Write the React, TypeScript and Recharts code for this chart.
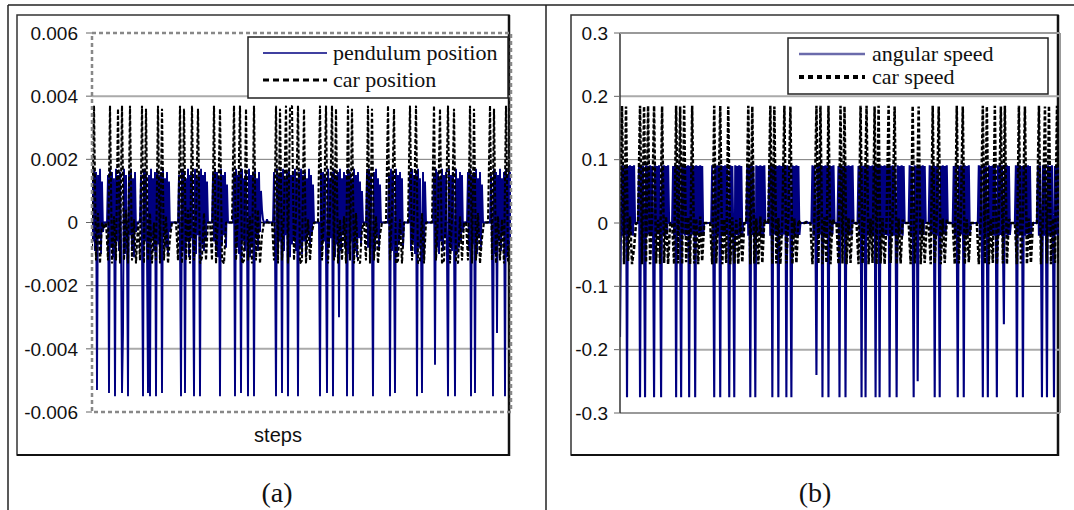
import React from "react";
import { LineChart, Line, XAxis, YAxis, ReferenceLine } from "recharts";

// Panel (a): pendulum position, one sample per step, units of 0.0001
const pendulumPos = [
  14, -6, 17, -9, 16, -53, 15, -4, 17, -10, 13, -3, 0, 0, 0, 0, 15, -54, 17, -8,
  16, -11, 14, -55, 17, -6, 15, -9, 16, -5, -54, -35, 17, -10, 15, -7, -55, 16, -4, 17,
  -9, 14, -11, 16, -3, 0, 0, 0, 1, 15, -8, -55, 17, -6, 16, -10, -54, 15, -55, 17,
  -5, 14, -9, 16, -55, 17, -7, 15, -11, 16, -54, 17, -4, 14, -8, 16, -10, 13, -3, 0,
  0, 0, 0, 0, 0, 0, 0, 15, -7, -55, 17, -9, 16, -54, 14, -6, 17, -11, 15, -5,
  16, -8, -55, 17, -10, 14, -4, 16, -55, 17, -7, 15, -9, 16, -5, 13, 0, 0, 0, 0,
  0, 15, -6, 17, -9, 16, -11, 14, -55, 17, -7, 15, -4, 16, -8, 12, 0, 0, 0, 0,
  0, 0, 16, -55, 17, -8, 15, -10, 16, -54, 17, -6, 14, -9, 16, -4, -55, 17, -11, 15,
  -7, 16, -55, 17, -5, 14, -9, 16, -3, 10, 4, 1, 0, 0, 0, 1, 0, 0, 0, 0,
  0, 0, 16, -8, -55, 17, -10, 15, -6, 16, -54, 17, -9, 14, -4, 16, -55, 17, -11, 15,
  -7, 16, -5, 17, -9, 14, -55, 16, -8, 17, -10, 15, -6, 16, -11, 14, -4, 17, -8, 15,
  -3, 12, 0, 0, 0, 0, 0, 0, -55, 17, -9, 16, -6, 15, -10, -54, 17, -8, 14, -5,
  16, -55, 17, -11, 15, -7, 16, -30, 17, -9, 14, -4, 16, -8, 15, -55, 17, -10, 16, -6,
  14, -55, 17, -9, 15, -11, 16, -5, 13, -7, 10, 0, 0, 0, 0, 16, -8, 17, -10, 15,
  -6, -55, 16, -9, 17, -4, 14, -8, 12, 0, 0, 0, 0, 0, 0, 0, 0, 15, -55, 17,
  -9, 16, -6, -54, 17, -11, 15, -7, 16, -4, 14, -8, 0, 0, 0, 0, 0, 0, 16, -9,
  17, -6, 15, -10, 16, -55, 17, -8, 14, -5, -54, 16, -11, 13, 0, 0, 0, 0, 0, 0,
  0, 0, 15, -45, 17, -8, 16, -10, 14, -6, 17, -9, 15, -4, 16, -11, -55, 17, -7, 15,
  -9, 16, -5, -55, 17, -10, 14, -8, 16, -6, 15, -3, 0, 0, 0, 0, 16, -9, 17, -55,
  15, -7, 16, -54, 17, -10, 14, -5, 16, -8, 12, 0, 0, 0, 0, 0, 0, 0, 0, 15,
  -8, -55, 17, -10, 16, -35, 15, -6, 17, -9, 14, -4, 16, -55, 17, -11, 15, -7, 16, -5,
];
// Panel (a): car position, one sample every 2 steps, units of 0.0001
const carPos = [
  -8, 37, -12, 3, -13, 0, -2, 0, -12, 37,
  -13, 2, -12, 36, -13, 37, -12, 4, -13, 37,
  -12, 1, -13, 0, -12, 37, -13, 36, -12, 3,
  -13, 0, -12, 37, -13, 36, -12, 2, -13, -5,
  0, 0, 0, -12, 37, -13, 36, -12, 4, -13,
  37, -12, 1, 36, -13, -11, 3, -12, 0, 0,
  -12, 37, -13, 2, 36, -12, -13, 0, 0, 0,
  0, 37, -12, 3, 37, -13, -12, 36, -12, 2,
  -13, 37, -12, 4, -13, -4, 0, 0, 0, 0,
  0, -12, 37, -13, 36, -12, 3, 37, -13, 36,
  37, -12, 2, 37, -13, -12, 36, -13, 1, -12,
  -3, 0, 0, 0, 37, -12, 2, 37, -13, 3,
  37, -12, 36, -13, 1, -12, 2, -13, 37, -12,
  36, -13, 3, -12, -13, -2, 0, -12, 37, -13,
  36, -12, 2, -13, -4, 0, 0, 0, 37, -12,
  3, 36, -13, -12, 1, -13, 0, 0, 0, 37,
  -12, 2, 37, -13, -12, 3, -13, 0, 0, 0,
  0, 37, -12, 2, 36, -13, -12, 3, 37, -13,
  1, 36, -12, -13, 2, -12, 0, 0, -12, 37,
  -13, 36, -12, 3, -13, -5, 0, 0, 0, 37,
  -12, 36, -13, 2, -12, 1, -13, 37, -12, -13,
];

// Panel (b): angular speed, one sample per step, units of 0.001
const angularSpeed = [
  -180, 0, 91, -20, 90, -19, 91, -275, 90, -20, 91, -18, 90, -20, 91, 0, 0, 0, 0, 90,
  -275, 91, -20, 90, -19, -275, 91, -20, 90, -18, 91, -20, 90, -19, -275, 91, -20, 90, -18, 91,
  -20, -275, 90, -19, 91, -20, 90, -18, 91, 0, 0, 0, 0, 90, -20, 91, -275, 90, -19, 91,
  -20, -275, 90, -18, 91, -20, 90, -19, 91, -275, 90, -20, 91, -18, 90, -275, 91, -19, 90, -20,
  91, -18, 90, -20, 0, 0, 0, 0, 0, 0, 0, 0, 91, -20, -275, 90, -19, 91, -20, 90,
  -275, 91, -18, 90, -20, 91, -19, 90, -20, -275, 91, -18, 90, -20, -275, 91, -19, 90, -20, 91,
  -18, 90, -20, 0, 0, 0, 0, 91, -20, 90, -275, 91, -19, 90, -20, -275, 91, -18, 90, -20,
  91, -19, 90, -20, 91, 0, 0, 0, 0, 90, -20, 91, -275, 90, -18, 91, -20, 90, -275, 91,
  -19, 90, -20, 91, -18, 90, -275, 91, -20, 90, -19, -275, 91, -20, 90, -18, 91, -20, 90, -19,
  0, 0, 0, 0, 0, 1, 2, 1, 0, 0, 0, 0, 91, -20, 90, -19, -240, 91, -20, 90,
  -18, 91, -275, 90, -20, 91, -19, 90, -275, 91, -20, 90, -18, 91, 0, 0, 0, 0, 90, -275,
  91, -20, 90, -19, 91, -275, 90, -20, 91, -18, 90, -20, 91, 0, 0, 0, 0, 0, 90, -20,
  91, -275, 90, -19, 91, -275, 90, -20, 91, -18, 90, -20, 91, -19, 90, -275, 91, -20, 90, -275,
  91, -18, 90, -20, 91, -19, 90, -20, 91, -275, 90, -18, 91, -20, 90, -19, -275, 91, -20, 90,
  -18, 91, -20, 90, 0, 0, 0, 0, 0, 91, -20, 90, -19, -275, 91, -20, 90, -250, 91, -18,
  90, -20, 91, -19, 90, 0, 0, 0, 0, 91, -20, 90, -18, 91, -275, 90, -20, 91, -19, -275,
  90, -20, 91, -18, 90, -20, 91, 0, 0, 0, 0, 0, 0, 90, -20, 91, -19, -275, 90, -20,
  91, -18, 90, -275, 91, -20, 90, -19, 91, -20, 0, 0, 0, 0, 0, 0, 0, 0, 91, -20,
  90, -19, -275, 91, -20, 90, -18, -275, 91, -20, 90, -19, 91, -20, 90, -18, -275, 91, -20, 90,
  -19, 91, -20, -160, 90, -18, 91, -20, 90, -19, 0, 0, 0, 0, 0, 91, -275, 90, -20, 91,
  -19, 90, -275, 91, -20, 90, -18, 91, -20, 90, -19, 0, 0, 0, 0, 0, 0, 91, -20, 90,
  -19, -275, 91, -20, 90, -18, -275, 91, -20, 90, -19, 91, -20, -275, 90, -18, 91, -20, 90, -19,
];
// Panel (b): car speed, one sample every 2 steps, units of 0.001
const carSpeed = [
  -30, 185, -65, 184, -60, 10, -65, -40, 0, 0,
  185, -65, 184, -62, 185, -65, 8, 185, -64, 5,
  -65, 184, -63, 10, -65, 0, 0, -65, 185, -64,
  184, -65, 185, -62, 9, -65, 185, -64, 7, -65,
  10, -60, 0, 0, 0, 0, -65, 185, -64, 8,
  185, -65, 6, -63, 184, -65, 9, -64, 5, -65,
  8, -62, 0, 0, 185, -65, 184, -64, 7, -65,
  10, -63, 5, 0, 0, 185, -65, 184, -64, 8,
  -65, 6, 185, -64, 9, 184, -65, 7, -63, 4,
  0, 0, 0, 1, 0, 0, -65, 8, 185, -64,
  185, -65, 9, -63, 185, -65, 6, 0, 0, -65,
  185, -64, 184, -65, 8, -63, 5, 0, 0, -65,
  185, -64, 9, 185, -65, 7, -63, 184, -65, 185,
  -64, 8, -65, 6, 185, -63, 9, 184, -65, 7,
  -64, 5, 0, 0, 0, -65, 185, -64, 8, 184,
  -65, 6, -63, 0, 0, -65, 185, -64, 9, 184,
  -65, 7, -63, 5, 0, 0, 0, -65, 185, -64,
  8, 184, -65, 6, -62, 0, 0, 0, 0, -65,
  8, 185, -64, 184, -65, 7, -63, 185, -65, 9,
  184, -64, 185, -65, 6, 0, 0, 0, -65, 185,
  -64, 8, 184, -65, 7, -63, 0, 0, 0, 185,
  -65, 8, 184, -64, 185, -65, 7, -63, 185, -65,
];

const ticksA = [-0.006, -0.004, -0.002, 0, 0.002, 0.004, 0.006];
const tickLabelsA = ["-0.006", "-0.004", "-0.002", "0", "0.002", "0.004", "0.006"];
const ticksB = [-0.3, -0.2, -0.1, 0, 0.1, 0.2, 0.3];
const tickLabelsB = ["-0.3", "-0.2", "-0.1", "0", "0.1", "0.2", "0.3"];

const seriesNamesA = ["pendulum position", "car position"];
const seriesNamesB = ["angular speed", "car speed"];

// step index of each sample (car series are sampled every 2 steps)
const pendData = pendulumPos.map((v, i) => ({ x: i, y: v / 10000 }));
const carAData = carPos.map((v, i) => ({ x: i * 2, y: v / 10000 }));
const angData = angularSpeed.map((v, i) => ({ x: i, y: v / 1000 }));
const carBData = carSpeed.map((v, i) => ({ x: i * 2, y: v / 1000 }));

const SANS = "'Liberation Sans', Arial, sans-serif";
const SERIF = "'Liberation Serif', 'DejaVu Serif', 'Times New Roman', serif";
const NAVY = "#000080";

export default function App() {
  return (
    <div style={{ position: "absolute", left: 0, top: 0, width: 1074, height: 510, background: "#fff", overflow: "hidden" }}>
      {/* under layer */}
      <svg width={1074} height={510} style={{ position: "absolute", left: 0, top: 0 }}>
        <line x1={8} y1={5} x2={1074} y2={5} stroke="#222" strokeWidth={1.5} />
        <line x1={8} y1={5} x2={8} y2={510} stroke="#222" strokeWidth={1.5} />
        <line x1={546} y1={5} x2={546} y2={510} stroke="#222" strokeWidth={1.5} />
        <rect x={17} y={15} width={492} height={440} fill="#fff" stroke="#333" strokeWidth={1.5} />
        <line x1={509} y1={15} x2={509} y2={456} stroke="#111" strokeWidth={2.5} />
        <line x1={17} y1={455} x2={509} y2={455} stroke="#111" strokeWidth={2} />
        <rect x={571} y={15} width={487} height={440} fill="#fff" stroke="#333" strokeWidth={1.5} />
        <line x1={1058} y1={15} x2={1058} y2={456} stroke="#111" strokeWidth={2.5} />
        <line x1={571} y1={455} x2={1058} y2={455} stroke="#111" strokeWidth={2} />
        <text x={278} y={442} textAnchor="middle" style={{ fontFamily: SANS, fontSize: 20 }} fill="#111">steps</text>
        <text x={277} y={502} textAnchor="middle" style={{ fontFamily: SERIF, fontSize: 28 }} fill="#111">(a)</text>
        <text x={815} y={502} textAnchor="middle" style={{ fontFamily: SERIF, fontSize: 28 }} fill="#111">(b)</text>
      </svg>

      <div style={{ position: "absolute", left: 0, top: 0 }}>
        <LineChart width={530} height={460} margin={{ top: 33, right: 19, bottom: 48, left: 32 }}>
          <XAxis dataKey="x" type="number" domain={[0, pendulumPos.length - 1]} hide allowDataOverflow />
          <YAxis
            type="number"
            domain={[-0.006, 0.006]}
            ticks={ticksA}
            width={60}
            tickSize={6}
            tickMargin={8}
            axisLine={false}
            tickLine={{ stroke: "#666" }}
            tickFormatter={(v: number, idx: number) => tickLabelsA[idx]}
            tick={{ fontFamily: SANS, fontSize: 19, fill: "#111" }}
            allowDataOverflow
          />
          <ReferenceLine y={0.004} stroke="#aaa" strokeWidth={2} />
          <ReferenceLine y={0.002} stroke="#777" strokeWidth={1} />
          <ReferenceLine y={-0.002} stroke="#666" strokeWidth={1} />
          <ReferenceLine y={-0.004} stroke="#aaa" strokeWidth={2} />
          <ReferenceLine y={0} stroke="#111" strokeWidth={1.5} />
          <Line data={pendData} type="linear" dataKey="y" name={seriesNamesA[0]} stroke={NAVY} strokeWidth={1.9} strokeLinejoin="bevel" dot={false} isAnimationActive={false} />
          <Line data={carAData} type="linear" dataKey="y" name={seriesNamesA[1]} stroke="#000" strokeWidth={2.1} strokeDasharray="4 2" strokeLinejoin="bevel" dot={false} isAnimationActive={false} />
        </LineChart>
      </div>

      <div style={{ position: "absolute", left: 540, top: 0 }}>
        <LineChart width={530} height={460} margin={{ top: 33, right: 10, bottom: 47, left: 20 }}>
          <XAxis dataKey="x" type="number" domain={[0, angularSpeed.length - 1]} hide allowDataOverflow />
          <YAxis
            type="number"
            domain={[-0.3, 0.3]}
            ticks={ticksB}
            width={60}
            tickSize={6}
            tickMargin={6}
            axisLine={{ stroke: "#333", strokeWidth: 1.5 }}
            tickLine={{ stroke: "#666" }}
            tickFormatter={(v: number, idx: number) => tickLabelsB[idx]}
            tick={{ fontFamily: SANS, fontSize: 19, fill: "#111" }}
            allowDataOverflow
          />
          <ReferenceLine y={0.3} stroke="#999" strokeWidth={2} />
          <ReferenceLine y={0.2} stroke="#aaa" strokeWidth={2} />
          <ReferenceLine y={0.1} stroke="#777" strokeWidth={1} />
          <ReferenceLine y={-0.1} stroke="#111" strokeWidth={1} />
          <ReferenceLine y={-0.2} stroke="#aaa" strokeWidth={2} />
          <ReferenceLine y={-0.3} stroke="#999" strokeWidth={2} />
          <ReferenceLine y={0} stroke="#1a1a70" strokeWidth={1.5} />
          <Line data={angData} type="linear" dataKey="y" name={seriesNamesB[0]} stroke={NAVY} strokeWidth={2.1} strokeLinejoin="bevel" dot={false} isAnimationActive={false} />
          <Line data={carBData} type="linear" dataKey="y" name={seriesNamesB[1]} stroke="#000" strokeWidth={2.5} strokeDasharray="4 2" strokeLinejoin="bevel" dot={false} isAnimationActive={false} />
        </LineChart>
      </div>

      {/* over layer */}
      <svg width={1074} height={510} style={{ position: "absolute", left: 0, top: 0, pointerEvents: "none" }}>
        <rect x={92} y={33} width={419} height={379} fill="none" stroke="#888" strokeWidth={2.5} strokeDasharray="4 3" />
        <line x1={620} y1={33} x2={1060} y2={33} stroke="#999" strokeWidth={2} />
        <line x1={1060} y1={33} x2={1060} y2={413} stroke="#999" strokeWidth={2} />

        <rect x={248} y={37} width={260} height={61} fill="#fff" stroke="#222" strokeWidth={1.5} />
        <line x1={263} y1={53} x2={327} y2={53} stroke={NAVY} strokeWidth={1.5} />
        <line x1={263} y1={80} x2={327} y2={80} stroke="#000" strokeWidth={3} strokeDasharray="6 4" />
        <text x={333} y={60} style={{ fontFamily: SERIF, fontSize: 22 }} fill="#111">{seriesNamesA[0]}</text>
        <text x={333} y={87} style={{ fontFamily: SERIF, fontSize: 22 }} fill="#111">{seriesNamesA[1]}</text>

        <rect x={788} y={38} width={260} height={56} fill="#fff" stroke="#222" strokeWidth={1.5} />
        <line x1={799} y1={54} x2={865} y2={54} stroke="#6b6bab" strokeWidth={2.5} />
        <line x1={799} y1={77} x2={865} y2={77} stroke="#000" strokeWidth={4} strokeDasharray="5 4" />
        <text x={872} y={61} style={{ fontFamily: SERIF, fontSize: 22 }} fill="#111">{seriesNamesB[0]}</text>
        <text x={872} y={84} style={{ fontFamily: SERIF, fontSize: 22 }} fill="#111">{seriesNamesB[1]}</text>
      </svg>
    </div>
  );
}
